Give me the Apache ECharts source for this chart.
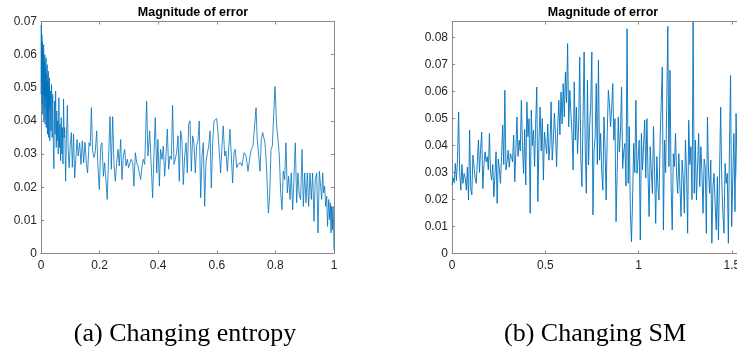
<!DOCTYPE html>
<html>
<head>
<meta charset="utf-8">
<script src="https://cdn.jsdelivr.net/npm/echarts@6/dist/echarts.min.js"></script>
<style>
  html, body { margin: 0; padding: 0; background: #fff; }
  #main { width: 737px; height: 355px; }
</style>
</head>
<body>
<div id="main"></div>
<script>
// panel (a): x positions are uneven, dense near 0 and near 1
var leftX = [
  0.000, 0.001, 0.002, 0.003, 0.004, 0.005, 0.006, 0.007, 0.008, 0.009,
  0.010, 0.011, 0.012, 0.013, 0.014, 0.015, 0.016, 0.017, 0.018, 0.019,
  0.020, 0.021, 0.022, 0.023, 0.024, 0.025, 0.026, 0.027, 0.028, 0.029,
  0.030, 0.032, 0.034, 0.036, 0.038, 0.040, 0.042, 0.044, 0.046, 0.048,
  0.050, 0.052, 0.054, 0.055, 0.057, 0.059, 0.061, 0.063, 0.065, 0.067,
  0.069, 0.071, 0.073, 0.075, 0.077, 0.079, 0.081, 0.084, 0.087, 0.090,
  0.093, 0.096, 0.100, 0.1035, 0.107, 0.111, 0.115, 0.123, 0.127, 0.132,
  0.1365, 0.141, 0.1456, 0.150, 0.155, 0.159, 0.164, 0.168, 0.172, 0.176,
  0.181, 0.185, 0.190, 0.1945, 0.199, 0.204, 0.208, 0.213, 0.217, 0.222,
  0.226, 0.231, 0.2355, 0.240, 0.2446, 0.249, 0.2537, 0.258, 0.263, 0.267,
  0.272, 0.2765, 0.281, 0.2856, 0.290, 0.2947, 0.299, 0.304, 0.308, 0.313,
  0.317, 0.322, 0.3265, 0.331, 0.3356, 0.340, 0.345, 0.349, 0.354, 0.3606,
  0.365, 0.371, 0.3754, 0.381, 0.3857, 0.390, 0.395, 0.399, 0.404, 0.408,
  0.413, 0.4175, 0.422, 0.4266, 0.431, 0.4357, 0.440, 0.445, 0.449, 0.454,
  0.4585, 0.463, 0.4676, 0.472, 0.4767, 0.481, 0.4858, 0.4903, 0.495, 0.4994,
  0.504, 0.5085, 0.513, 0.5176, 0.522, 0.5267, 0.531, 0.536, 0.540, 0.545,
  0.5495, 0.554, 0.5586, 0.563, 0.5677, 0.572, 0.577, 0.5813, 0.586, 0.5904,
  0.595, 0.5995, 0.604, 0.6086, 0.613, 0.6177, 0.622, 0.627, 0.631, 0.636,
  0.6405, 0.645, 0.6496, 0.654, 0.6587, 0.663, 0.668, 0.672, 0.677, 0.681,
  0.686, 0.693, 0.700, 0.7065, 0.7133, 0.718, 0.7235, 0.728, 0.734, 0.738,
  0.743, 0.7474, 0.752, 0.7565, 0.760, 0.7645, 0.769, 0.776, 0.7804, 0.785,
  0.7895, 0.7986, 0.8043, 0.809, 0.8134, 0.818, 0.8225, 0.827, 0.8316, 0.836,
  0.8407, 0.845, 0.850, 0.854, 0.859, 0.8635, 0.868, 0.8726, 0.877, 0.8817,
  0.886, 0.891, 0.8953, 0.900, 0.9044, 0.909, 0.9135, 0.918, 0.9226, 0.927,
  0.9317, 0.936, 0.941, 0.9454, 0.950, 0.9545, 0.958, 0.9613, 0.9647, 0.968,
  0.9716, 0.975, 0.978, 0.982, 0.985, 0.9875, 0.990, 0.992, 0.9943, 0.9966,
  0.999, 1.000
];
var leftY = [
  0.048, 0.069, 0.052, 0.066, 0.045, 0.064, 0.042, 0.061, 0.048, 0.063,
  0.040, 0.058, 0.044, 0.060, 0.039, 0.056, 0.047, 0.059, 0.038, 0.054,
  0.043, 0.057, 0.036, 0.052, 0.041, 0.055, 0.035, 0.050, 0.044, 0.053,
  0.034, 0.049, 0.037, 0.051, 0.035, 0.048, 0.033, 0.0256, 0.046, 0.036,
  0.049, 0.032, 0.043, 0.034, 0.040, 0.030, 0.047, 0.032, 0.039, 0.028,
  0.041, 0.030, 0.038, 0.027, 0.0466, 0.035, 0.038, 0.0218, 0.036, 0.0447,
  0.031, 0.0259, 0.033, 0.0365, 0.026, 0.036, 0.0228, 0.0344, 0.0294, 0.0334,
  0.0269, 0.034, 0.0274, 0.0336, 0.0269, 0.0243, 0.0334, 0.0324, 0.044, 0.031,
  0.029, 0.0304, 0.037, 0.0259, 0.0193, 0.0324, 0.0334, 0.0233, 0.0274, 0.0218,
  0.0163, 0.0299, 0.0413, 0.0254, 0.0413, 0.0269, 0.0218, 0.0274, 0.0314, 0.0264,
  0.0344, 0.0223, 0.0294, 0.0314, 0.0264, 0.0284, 0.0259, 0.0254, 0.0284, 0.0274,
  0.0203, 0.0304, 0.0274, 0.0264, 0.0243, 0.0223, 0.0264, 0.0284, 0.0269, 0.046,
  0.0294, 0.037, 0.037, 0.0168, 0.0304, 0.041, 0.0243, 0.0344, 0.0203, 0.0314,
  0.0284, 0.0324, 0.0233, 0.0294, 0.0375, 0.0254, 0.0294, 0.0284, 0.0447, 0.0269,
  0.0264, 0.0304, 0.0355, 0.0218, 0.037, 0.0344, 0.0208, 0.0294, 0.0334, 0.0243,
  0.039, 0.040, 0.0248, 0.0355, 0.0334, 0.0243, 0.0324, 0.0344, 0.040, 0.0168,
  0.0294, 0.0334, 0.0142, 0.0274, 0.0304, 0.0319, 0.037, 0.0198, 0.0334, 0.040,
  0.040, 0.0407, 0.0365, 0.0304, 0.0243, 0.0324, 0.0385, 0.0294, 0.0309, 0.0248,
  0.0314, 0.0375, 0.0294, 0.0213, 0.0304, 0.0314, 0.0259, 0.0269, 0.0269, 0.0274,
  0.0264, 0.0304, 0.0294, 0.0248, 0.0294, 0.0314, 0.0324, 0.033, 0.044, 0.0344,
  0.0294, 0.0248, 0.0344, 0.0365, 0.0365, 0.0334, 0.0274, 0.0122, 0.0173, 0.0314,
  0.0324, 0.0504, 0.0385, 0.0344, 0.0294, 0.0183, 0.0132, 0.0248, 0.0223, 0.0334,
  0.0183, 0.0233, 0.0163, 0.0243, 0.0132, 0.0233, 0.0334, 0.0153, 0.0243, 0.0173,
  0.0163, 0.0314, 0.0142, 0.0243, 0.0153, 0.0243, 0.0142, 0.0243, 0.0163, 0.0243,
  0.0097, 0.0223, 0.0243, 0.0062, 0.0248, 0.0203, 0.0163, 0.0243, 0.0183, 0.0203,
  0.0142, 0.0173, 0.0082, 0.0163, 0.0102, 0.0153, 0.0062, 0.0142, 0.0072, 0.0142,
  0.0062, 0.001
];

// panel (b): evenly sampled in x
var rightStep = 0.0059;
var rightY = [
  0.0254, 0.0280, 0.0262, 0.0334, 0.0270, 0.0350, 0.0525, 0.0300, 0.0235, 0.0330,
  0.0260, 0.0297, 0.0280, 0.0235, 0.0320, 0.0198, 0.0457, 0.0240, 0.0217, 0.0365,
  0.0370, 0.0280, 0.0260, 0.0340, 0.0420, 0.0300, 0.0390, 0.0450, 0.0240, 0.0330,
  0.0377, 0.0340, 0.0359, 0.0310, 0.0445, 0.0300, 0.0272, 0.0330, 0.0210, 0.0290,
  0.0377, 0.0186, 0.0350, 0.0315, 0.0260, 0.0360, 0.0476, 0.0330, 0.0605, 0.0310,
  0.0340, 0.0383, 0.0320, 0.0370, 0.0359, 0.0340, 0.0439, 0.0266, 0.0380, 0.0506,
  0.0360, 0.0420, 0.0380, 0.0568, 0.0400, 0.0297, 0.0460, 0.0254, 0.0562, 0.0433,
  0.0500, 0.0149, 0.0531, 0.0400, 0.0457, 0.0322, 0.0480, 0.0617, 0.0192, 0.0420,
  0.0543, 0.0380, 0.0500, 0.0272, 0.0450, 0.0408, 0.0370, 0.0480, 0.0346, 0.0400,
  0.0562, 0.0346, 0.0420, 0.0520, 0.0445, 0.0322, 0.0470, 0.0568, 0.0440, 0.0599,
  0.0480, 0.0630, 0.0506, 0.0673, 0.0560, 0.0778, 0.0470, 0.0605, 0.0520, 0.0445,
  0.0310, 0.0636, 0.0420, 0.0543, 0.0370, 0.0476, 0.0728, 0.0350, 0.0248, 0.0500,
  0.0747, 0.0390, 0.0223, 0.0642, 0.0328, 0.0470, 0.0556, 0.0747, 0.0143, 0.0380,
  0.0433, 0.0630, 0.0330, 0.0716, 0.0346, 0.0445, 0.0300, 0.0235, 0.0506, 0.0390,
  0.0198, 0.0450, 0.0605, 0.0556, 0.0470, 0.0540, 0.0630, 0.0420, 0.0500, 0.0118,
  0.0300, 0.0506, 0.0377, 0.0450, 0.0617, 0.0315, 0.0380, 0.0408, 0.0250, 0.0833,
  0.0260, 0.0470, 0.0150, 0.0044, 0.0198, 0.0408, 0.0300, 0.0568, 0.0297, 0.0350,
  0.0420, 0.0050, 0.0445, 0.0310, 0.0400, 0.0494, 0.0280, 0.0500, 0.0300, 0.0137,
  0.0396, 0.0310, 0.0223, 0.0470, 0.0300, 0.0112, 0.0359, 0.0250, 0.0198, 0.0420,
  0.0556, 0.0691, 0.0087, 0.0420, 0.0300, 0.0543, 0.0842, 0.0322, 0.0679, 0.0250,
  0.0087, 0.0370, 0.0322, 0.0445, 0.0290, 0.0223, 0.0370, 0.0250, 0.0137, 0.0346,
  0.0280, 0.0149, 0.0420, 0.0300, 0.0075, 0.0494, 0.0330, 0.0396, 0.0200, 0.0858,
  0.0223, 0.0420, 0.0198, 0.0320, 0.0445, 0.0248, 0.0396, 0.0300, 0.0149, 0.0350,
  0.0322, 0.0075, 0.0506, 0.0300, 0.0223, 0.0346, 0.0038, 0.0250, 0.0297, 0.0180,
  0.0087, 0.0285, 0.0050, 0.0300, 0.0543, 0.0272, 0.0150, 0.0075, 0.0334, 0.0260,
  0.0297, 0.0038, 0.0400, 0.0660, 0.0100, 0.0280, 0.0445, 0.0155, 0.0519, 0.0300,
  0.0200, 0.0380, 0.0250, 0.0420, 0.0300, 0.0350, 0.0280
];

var panelTitle = 'Magnitude of error';
var captions = ['(a) Changing entropy', '(b) Changing SM'];

var leftData = leftX.map((x, i) => [x, leftY[i]]);
var rightData = rightY.map((y, i) => [i * rightStep, y]);

var chart = echarts.init(document.getElementById('main'));

var axisColor = '#8a8a8a';
var labelStyle = { color: '#262626', fontSize: 12, fontFamily: 'Liberation Sans, Arial, sans-serif' };

var mkX = (grid, pos, max, interval, labels) => ({
  type: 'value', gridIndex: grid, position: pos, min: 0, max: max, interval: interval,
  axisLine: { show: true, onZero: false, lineStyle: { color: axisColor, width: 1 } },
  axisTick: { show: true, inside: true, length: 3, lineStyle: { color: axisColor } },
  axisLabel: Object.assign({ show: labels, margin: 6, showMaxLabel: max === 1 }, labelStyle),
  splitLine: { show: false }
});
var mkY = (grid, pos, max, labels) => ({
  type: 'value', gridIndex: grid, position: pos, min: 0, max: max, interval: 0.01,
  axisLine: { show: true, onZero: false, lineStyle: { color: axisColor, width: 1 } },
  axisTick: { show: true, inside: true, length: 3, lineStyle: { color: axisColor } },
  axisLabel: Object.assign({ show: labels, margin: 4, showMaxLabel: max === 0.07 }, labelStyle),
  splitLine: { show: false }
});

var titleFont = { fontSize: 12.5, fontWeight: 'bold', color: '#000', fontFamily: 'Liberation Sans, Arial, sans-serif' };
var captionFont = { fontSize: 26, fontWeight: 'normal', color: '#000', fontFamily: 'Liberation Serif, Times New Roman, serif' };

var option = {
  animation: false,
  backgroundColor: '#fff',
  title: [
    { text: panelTitle, left: 188, top: 1, textAlign: 'center', textStyle: titleFont },
    { text: panelTitle, left: 598, top: 1, textAlign: 'center', textStyle: titleFont },
    { text: captions[0], left: 180, top: 316, textAlign: 'center', textStyle: captionFont },
    { text: captions[1], left: 590, top: 316, textAlign: 'center', textStyle: captionFont }
  ],
  grid: [
    { left: 41, top: 21.5, width: 293, height: 232, outerBoundsMode: 'none' },
    { left: 452, top: 21.5, width: 293, height: 232, outerBoundsMode: 'none' }
  ],
  xAxis: [
    mkX(0, 'bottom', 1, 0.2, true),
    mkX(0, 'top', 1, 0.2, false),
    mkX(1, 'bottom', 1.57, 0.5, true),
    mkX(1, 'top', 1.57, 0.5, false)
  ],
  yAxis: [
    mkY(0, 'left', 0.07, true),
    mkY(0, 'right', 0.07, false),
    mkY(1, 'left', 0.086, true),
    mkY(1, 'right', 0.086, false)
  ],
  series: [
    { type: 'line', xAxisIndex: 0, yAxisIndex: 0, data: leftData, symbol: 'none',
      lineStyle: { color: '#0072BD', width: 0.8 } },
    { type: 'line', xAxisIndex: 2, yAxisIndex: 2, data: rightData, symbol: 'none',
      lineStyle: { color: '#0072BD', width: 0.9 } }
  ]
};
chart.setOption(option);
</script>
</body>
</html>
